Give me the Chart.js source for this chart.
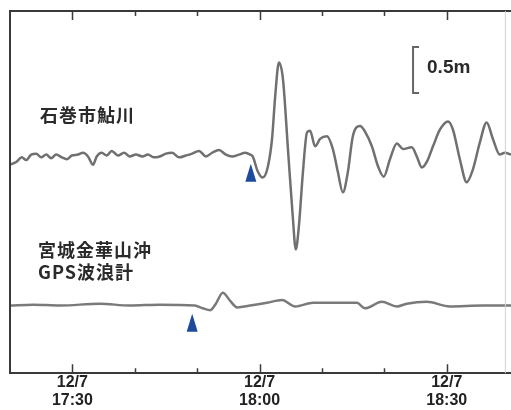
<!DOCTYPE html>
<html>
<head>
<meta charset="utf-8">
<script src="https://cdn.jsdelivr.net/npm/chart.js@4"></script>
<style>
  html, body { margin: 0; padding: 0; background: #fff; }
  #wrap { width: 511px; height: 410px; }
</style>
</head>
<body>
<div id="wrap"><canvas id="tsunamiChart"></canvas></div>
<script>
// time in minutes after 17:00 on 12/7
const ishiTime = [20.0, 21.0, 21.9, 22.6, 23.4, 24.2, 25.0, 25.8, 26.6, 27.4, 28.3, 29.1, 29.9, 30.9, 31.7, 32.5, 33.3, 33.9, 34.7, 35.5, 36.3, 37.3, 38.3, 39.2, 40.2, 41.2, 42.1, 43.1, 44.0, 45.0, 46.0, 47.1, 48.2, 49.2, 50.3, 51.4, 52.4, 53.5, 54.6, 55.6, 56.7, 57.7, 58.5, 58.9, 59.7, 60.5, 61.3, 62.0, 62.5, 63.1, 63.75, 64.55, 65.35, 65.8, 66.3, 66.95, 67.6, 68.1, 68.9, 69.7, 70.8, 71.75, 72.55, 73.35, 74.15, 74.95, 76.1, 76.9, 78.0, 79.0, 79.9, 80.9, 82.0, 83.0, 84.4, 85.2, 86.0, 86.8, 87.8, 88.9, 90.2, 91.0, 92.1, 93.2, 94.2, 95.3, 96.4, 97.4, 98.5, 99.3, 100.3];
// sea level change at Ishinomaki Ayukawa (m)
const ishiLevel = [-0.08, -0.05, 0.0, -0.03, 0.03, 0.04, 0.0, 0.03, -0.01, 0.03, 0.0, -0.02, 0.02, 0.03, 0.05, 0.01, -0.08, 0.01, 0.05, 0.02, 0.07, 0.02, 0.05, 0.01, 0.03, 0.01, 0.03, 0.0, 0.01, 0.04, 0.05, 0.0, 0.02, 0.04, 0.07, 0.01, 0.05, 0.08, 0.03, 0.01, 0.03, 0.05, 0.03, 0.01, -0.15, -0.22, -0.11, 0.2, 0.66, 1.03, 0.85, 0.09, -0.67, -1.0, -0.75, -0.16, 0.27, 0.29, 0.12, 0.2, 0.23, 0.09, -0.16, -0.38, -0.16, 0.23, 0.34, 0.28, 0.12, -0.1, -0.21, -0.02, 0.15, 0.09, 0.11, 0.01, -0.11, -0.05, 0.12, 0.3, 0.39, 0.3, -0.02, -0.27, -0.13, 0.16, 0.38, 0.2, 0.03, 0.05, 0.03];

const gpsTime = [20.0, 23.7, 28.0, 34.4, 39.2, 44.0, 49.6, 50.9, 52.1, 53.0, 54.1, 55.3, 56.4, 58.5, 61.2, 63.6, 65.7, 68.6, 75.6, 76.9, 79.6, 82.0, 83.6, 86.8, 90.5, 95.8, 100.3];
// sea level change at the GPS buoy off Kinkasan (m)
const gpsLevel = [0.0, 0.01, 0.0, 0.02, 0.0, 0.01, 0.0, -0.03, -0.05, 0.02, 0.14, 0.05, -0.02, 0.0, 0.03, 0.06, -0.01, 0.03, 0.03, -0.03, 0.04, -0.01, 0.02, 0.04, -0.01, 0.0, 0.0];

const stationNames = [['石巻市鮎川'], ['宮城金華山沖', 'GPS波浪計']];
const stationOffset = [0, -1.61];
const arrivalTime = [58.6, 49.2];
const arrivalLevel = [-0.07, -1.70];

const tickValues = [20, 30, 40, 50, 60, 70, 80, 90, 100];
const tickLabels = { 30: ['12/7', '17:30'], 60: ['12/7', '18:00'], 90: ['12/7', '18:30'] };
const scaleBar = { time: 84.6, top: 1.2, length: 0.5, label: '0.5m' };

function toPoints(times, levels, offset) {
    return times.map((t, i) => ({ x: t, y: levels[i] + offset }));
}

// frame, inward ticks, station names, arrival marks and scale bar
const decorPlugin = {
    id: 'decor',
    afterDraw(chart) {
        const ctx = chart.ctx;
        const area = chart.chartArea;
        const xs = chart.scales.x;
        const ys = chart.scales.y;
        ctx.save();

        // frame
        ctx.strokeStyle = '#3a3a3a';
        ctx.lineWidth = 2;
        ctx.beginPath();
        ctx.moveTo(area.right, area.top);
        ctx.lineTo(area.left, area.top);
        ctx.lineTo(area.left, area.bottom);
        ctx.stroke();
        ctx.strokeStyle = '#d0d0d0';
        ctx.lineWidth = 1;
        ctx.beginPath();
        ctx.moveTo(xs.getPixelForValue(99.4), area.top);
        ctx.lineTo(xs.getPixelForValue(99.4), area.bottom);
        ctx.stroke();

        // ticks
        ctx.strokeStyle = '#3a3a3a';
        ctx.lineWidth = 1.5;
        tickValues.forEach(v => {
            if (v <= 20 || v >= 100) return;
            const px = Math.round(xs.getPixelForValue(v)) + 0.5;
            const len = tickLabels[v] ? 9 : 5;
            ctx.beginPath();
            ctx.moveTo(px, area.top);
            ctx.lineTo(px, area.top + len);
            ctx.moveTo(px, area.bottom);
            ctx.lineTo(px, area.bottom - len);
            ctx.stroke();
        });

        // station names
        ctx.fillStyle = '#2a2a2a';
        ctx.font = 'bold 18px "Noto Sans CJK JP"';
        ctx.textBaseline = 'middle';
        ctx.textAlign = 'left';
        ctx.letterSpacing = '1px';
        stationNames[0].forEach((s, i) => ctx.fillText(s, area.left + 30, area.top + 104 + i * 22));
        stationNames[1].forEach((s, i) => ctx.fillText(s, area.left + 28, area.top + 239 + i * 22));
        ctx.letterSpacing = '0px';

        // arrival triangles
        ctx.fillStyle = '#1d4a9c';
        arrivalTime.forEach((t, i) => {
            const px = xs.getPixelForValue(t);
            const py = ys.getPixelForValue(arrivalLevel[i]);
            ctx.beginPath();
            ctx.moveTo(px, py);
            ctx.lineTo(px + 5.5, py + 18);
            ctx.lineTo(px - 5.5, py + 18);
            ctx.closePath();
            ctx.fill();
        });

        // scale bar
        const bx = xs.getPixelForValue(scaleBar.time);
        const by0 = ys.getPixelForValue(scaleBar.top);
        const by1 = ys.getPixelForValue(scaleBar.top - scaleBar.length);
        ctx.strokeStyle = '#666';
        ctx.lineWidth = 2;
        ctx.beginPath();
        ctx.moveTo(bx + 6, by0);
        ctx.lineTo(bx, by0);
        ctx.lineTo(bx, by1);
        ctx.lineTo(bx + 6, by1);
        ctx.stroke();
        ctx.fillStyle = '#2a2a2a';
        ctx.font = 'bold 19px "Liberation Sans"';
        ctx.fillText(scaleBar.label, bx + 14, (by0 + by1) / 2 - 2);

        ctx.restore();
    }
};

const ctx = document.getElementById('tsunamiChart').getContext('2d');
const tsunamiChart = new Chart(ctx, {
    type: 'line',
    data: {
        datasets: [{
            label: stationNames[0].join(''),
            data: toPoints(ishiTime, ishiLevel, stationOffset[0]),
            borderColor: '#707070',
            borderWidth: 2.5,
            pointRadius: 0,
            cubicInterpolationMode: 'monotone'
        }, {
            label: stationNames[1].join(''),
            data: toPoints(gpsTime, gpsLevel, stationOffset[1]),
            borderColor: '#7a7a7a',
            borderWidth: 2.5,
            pointRadius: 0,
            cubicInterpolationMode: 'monotone'
        }]
    },
    options: {
        responsive: true,
        maintainAspectRatio: false,
        animation: false,
        layout: {
            padding: { left: 10, top: 11, right: 0, bottom: 0 }
        },
        plugins: {
            legend: { display: false },
            tooltip: { enabled: false }
        },
        scales: {
            x: {
                type: 'linear',
                min: 20,
                max: 100.3,
                afterBuildTicks: axis => {
                    axis.ticks = tickValues.map(v => ({ value: v }));
                },
                ticks: {
                    autoSkip: false,
                    maxRotation: 0,
                    padding: 0,
                    color: '#222',
                    font: { family: 'Liberation Sans', size: 16, weight: 'bold', lineHeight: 1.15 },
                    callback: function(value) {
                        return tickLabels[value] || '';
                    }
                },
                grid: { display: false, drawTicks: false },
                border: { display: true, color: '#3a3a3a', width: 2 }
            },
            y: {
                display: false,
                min: -2.345,
                max: 1.59
            }
        }
    },
    plugins: [decorPlugin]
});
</script>
</body>
</html>
